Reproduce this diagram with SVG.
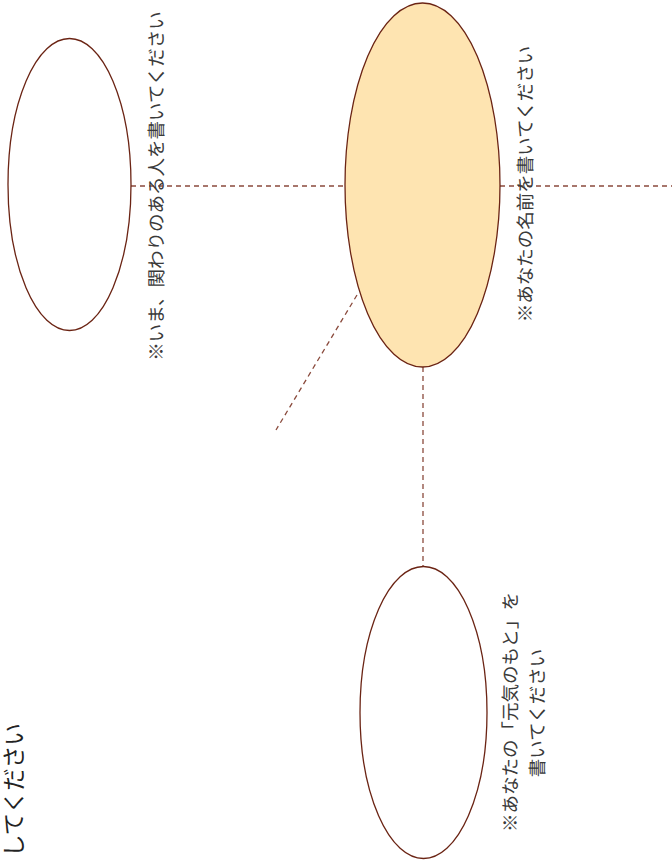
<svg xmlns="http://www.w3.org/2000/svg" width="672" height="863" viewBox="0 0 672 863">
<style>
.node{stroke:#6b2414;stroke-width:1.3}
.conn{stroke:#8a4a3c;stroke-width:1.3;stroke-dasharray:5 4;fill:none}
.lbl{font-family:"Noto Sans CJK JP","Noto Sans",sans-serif;font-size:18.5px;fill:#3a3a3a;text-anchor:middle;dominant-baseline:central;text-rendering:geometricPrecision}
</style>
<rect width="672" height="863" fill="#ffffff"/>
<g id="connectors">
<line class="conn" x1="131" y1="186" x2="672" y2="186"/>
<line class="conn" x1="423" y1="367" x2="423" y2="567"/>
<line class="conn" x1="357" y1="295" x2="276" y2="430"/>
</g>
<g id="node-others">
<ellipse class="node" cx="69.5" cy="184.5" rx="61.5" ry="146" fill="#ffffff"/>
<text class="lbl" transform="translate(155.5,186) rotate(-90)">※いま、関わりのある人を書いてください</text>
</g>
<g id="node-you">
<ellipse class="node" cx="422.5" cy="185" rx="77.5" ry="182" fill="#fee4b1"/>
<text class="lbl" transform="translate(524.5,184) rotate(-90)">※あなたの名前を書いてください</text>
</g>
<g id="node-genki">
<ellipse class="node" cx="423.5" cy="712.5" rx="63.5" ry="146" fill="#ffffff"/>
<text class="lbl" transform="translate(509.5,712) rotate(-90)">※あなたの「元気のもと」を</text>
<text class="lbl" transform="translate(536.5,713) rotate(-90)">書いてください</text>
</g>
<g id="title">
<text transform="translate(12,857) rotate(-90)" style="font-family:'Noto Sans CJK JP','Noto Sans',sans-serif;font-size:22.5px;fill:#222;dominant-baseline:central">してください</text>
</g>
</svg>
